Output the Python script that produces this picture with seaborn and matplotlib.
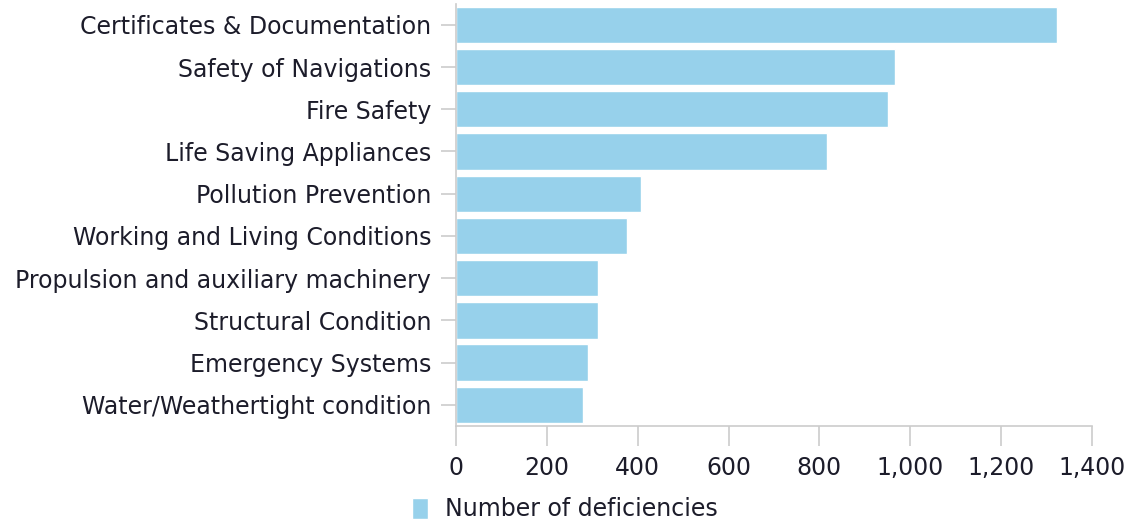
import matplotlib
matplotlib.use("Agg")
import matplotlib.pyplot as plt
import seaborn as sns
import pandas as pd

# categories and values
categories = [
    "Certificates & Documentation",
    "Safety of Navigations",
    "Fire Safety",
    "Life Saving Appliances",
    "Pollution Prevention",
    "Working and Living Conditions",
    "Propulsion and auxiliary machinery",
    "Structural Condition",
    "Emergency Systems",
    "Water/Weathertight condition",
]
deficiencies = [1323, 966, 951, 817, 407, 376, 313, 313, 290, 279]
x_ticks = [0, 200, 400, 600, 800, 1000, 1200, 1400]

BAR_COLOR = "#97D1EB"
GRID_GRAY = "#CCCCCC"
TEXT_COLOR = "#1c1c2a"
FONT_SIZE = 17


def build_frame():
    return pd.DataFrame({"category": categories, "value": deficiencies})


def plot_deficiencies(df):
    sns.set_style("white")
    plt.rcParams["font.family"] = ["DejaVu Sans"]

    fig = plt.figure(figsize=(11.33, 5.24), dpi=100)
    ax = fig.add_axes([0.4025, 0.187, 0.5613, 0.806])

    sns.barplot(data=df, x="value", y="category", orient="h",
                color=BAR_COLOR, saturation=1, width=0.86,
                edgecolor="white", linewidth=1,
                label="Number of deficiencies", ax=ax)

    ax.set_xlim(0, 1400)
    ax.set_ylim(9.5, -0.5)
    ax.set_xticks(x_ticks)
    ax.set_xticklabels([f"{t:,}" for t in x_ticks])
    ax.set_xlabel("")
    ax.set_ylabel("")

    for side in ["top", "right"]:
        ax.spines[side].set_visible(False)
    for side in ["left", "bottom"]:
        ax.spines[side].set_color(GRID_GRAY)
        ax.spines[side].set_linewidth(1.2)

    ax.tick_params(axis="y", left=True, length=11, width=1.2, color=GRID_GRAY,
                   labelsize=FONT_SIZE, labelcolor=TEXT_COLOR, pad=7)
    ax.tick_params(axis="x", bottom=True, length=14.5, width=1.2, color=GRID_GRAY,
                   labelsize=FONT_SIZE, labelcolor=TEXT_COLOR, pad=7)

    handles, labels = ax.get_legend_handles_labels()
    fig.legend(handles, labels, loc="center left",
               bbox_to_anchor=(0.3636, 0.028), frameon=False,
               handlelength=0.68, handleheight=1.0, handletextpad=0.7,
               borderpad=0, borderaxespad=0,
               fontsize=FONT_SIZE, labelcolor=TEXT_COLOR)
    if ax.get_legend() is not None:
        ax.get_legend().remove()

    fig.savefig("out.png", dpi=100)


def main():
    df = build_frame()
    plot_deficiencies(df)


if __name__ == "__main__":
    main()
